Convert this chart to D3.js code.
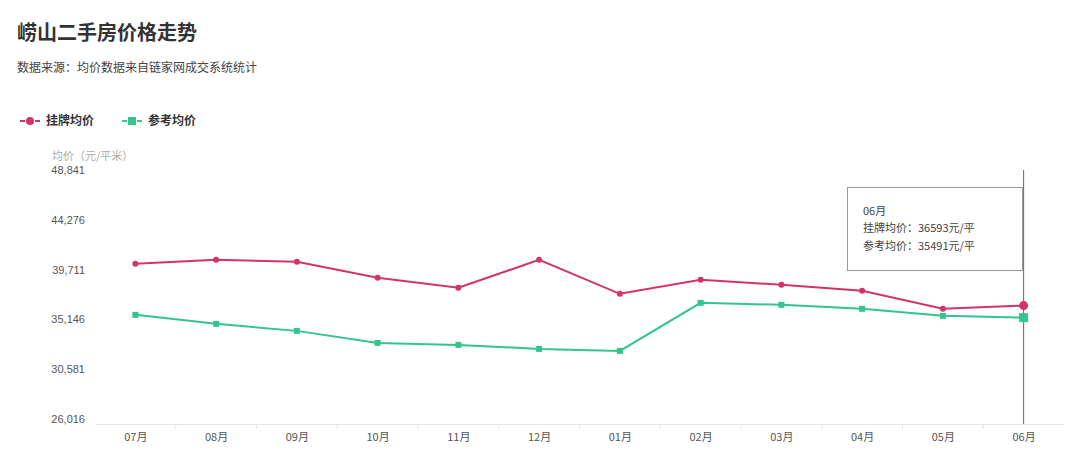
<!DOCTYPE html><html><head><meta charset="utf-8"><script src="https://cdn.jsdelivr.net/npm/d3@7"></script>
<style>body{margin:0;background:#fff;font-family:"Noto Sans CJK SC","Noto Sans",sans-serif}</style></head><body><svg id="c" width="1080" height="465"></svg><script>
const months=["07月","08月","09月","10月","11月","12月","01月","02月","03月","04月","05月","06月"];
const listing=[40429,40796,40612,39143,38225,40796,37675,38960,38501,37950,36298,36593];
const reference=[35747,34921,34278,33176,32993,32626,32442,36848,36665,36298,35655,35491];
const yTicks=[26016,30581,35146,39711,44276,48841];
const svg=d3.select("#c");
const F='"Noto Sans CJK SC",sans-serif';
svg.append("text").attr("x",17).attr("y",40).attr("font-size",20).attr("font-weight","bold").attr("fill","#333").attr("font-family",F).text("崂山二手房价格走势");
svg.append("text").attr("x",17).attr("y",72).attr("font-size",12).attr("fill","#444").attr("font-family",F).text("数据来源：均价数据来自链家网成交系统统计");
const x=d3.scalePoint().domain(months).range([95,1064]).padding(0.5);
const y=d3.scaleLinear().domain([26016,48841]).range([421,172]);
const red="#d4336a",green="#34c48e";
[[red,"挂牌均价",20,"circle"],[green,"参考均价",122,"rect"]].forEach(([c,t,lx,s])=>{
 svg.append("line").attr("x1",lx).attr("x2",lx+20).attr("y1",121).attr("y2",121).attr("stroke",c).attr("stroke-width",2).attr("stroke-dasharray","5,10");
 if(s=="circle")svg.append("circle").attr("cx",lx+10).attr("cy",121).attr("r",4).attr("fill",c);
 else svg.append("rect").attr("x",lx+6).attr("y",117).attr("width",8).attr("height",8).attr("fill",c);
 svg.append("text").attr("x",lx+26).attr("y",125).attr("font-size",12).attr("font-weight","bold").attr("fill","#333").attr("font-family",F).text(t);
});
svg.append("text").attr("x",52).attr("y",160).attr("font-size",11).attr("fill","#aaa").attr("font-family",F).text("均价（元/平米）");
const ya=svg.append("g").attr("transform","translate(88,-2)").call(d3.axisLeft(y).tickValues(yTicks).tickSize(0).tickFormat(d3.format(",")));
ya.select(".domain").remove();
ya.selectAll("text").attr("font-size",11).attr("fill","#555").attr("font-family","Liberation Sans,Arial");
const xa=svg.append("g").attr("transform","translate(0,424)").call(d3.axisBottom(x).tickSize(0).tickPadding(9));
xa.select(".domain").attr("stroke","#e6e6e6");
xa.selectAll("text").attr("font-size",11).attr("fill","#555").attr("font-family",F);
months.forEach((m,i)=>{const xx=x(m)+x.step()/2;if(i<11)svg.append("line").attr("x1",xx).attr("x2",xx).attr("y1",424).attr("y2",429).attr("stroke","#e6e6e6");});
svg.append("line").attr("x1",x("06月")).attr("x2",x("06月")).attr("y1",170).attr("y2",424).attr("stroke","#666");
const line=d3.line().x((d,i)=>x(months[i])).y(d=>y(d));
svg.append("path").datum(listing).attr("d",line).attr("fill","none").attr("stroke",red).attr("stroke-width",2);
svg.append("path").datum(reference).attr("d",line).attr("fill","none").attr("stroke",green).attr("stroke-width",2);
listing.forEach((v,i)=>svg.append("circle").attr("cx",x(months[i])).attr("cy",y(v)).attr("r",i==11?4.5:3).attr("fill",red));
reference.forEach((v,i)=>{const s=i==11?9:6;svg.append("rect").attr("x",x(months[i])-s/2).attr("y",y(v)-s/2).attr("width",s).attr("height",s).attr("fill",green);});
svg.append("rect").attr("x",847.5).attr("y",187.5).attr("width",175).attr("height",83).attr("fill","#fff").attr("stroke","#999");
[["06月",215],["挂牌均价：36593元/平",232],["参考均价：35491元/平",250]].forEach(([t,ty])=>svg.append("text").attr("x",863).attr("y",ty).attr("font-size",11).attr("fill","#444").attr("font-family",F).text(t));
</script></body></html>
